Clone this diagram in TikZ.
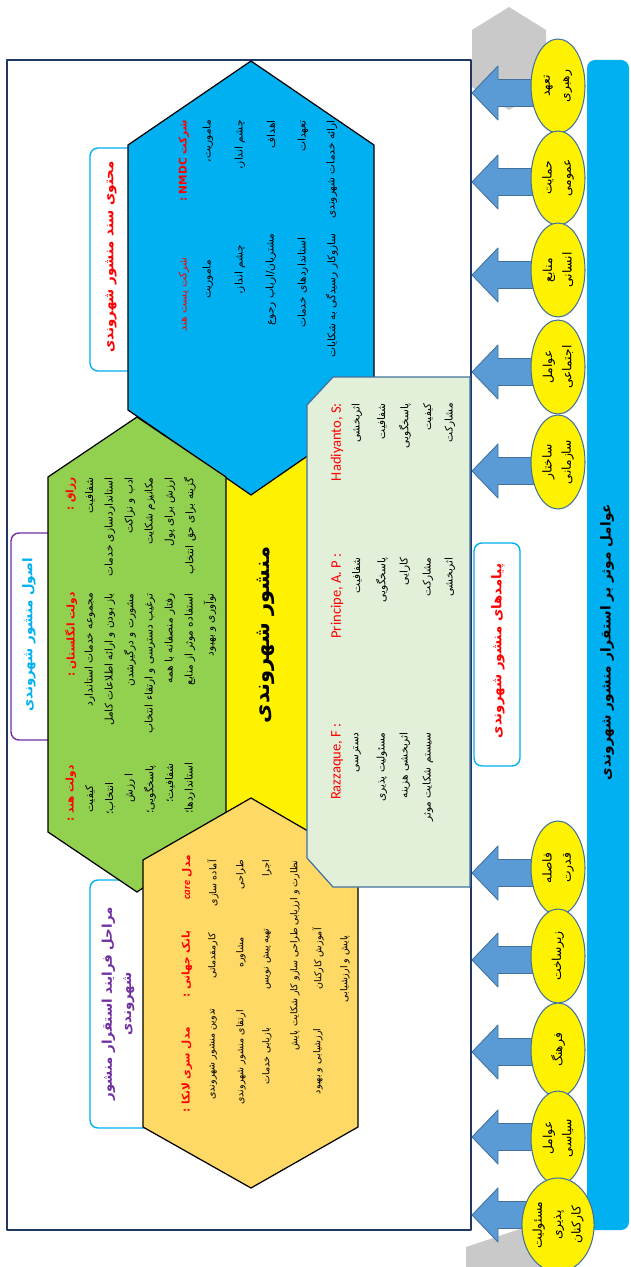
\documentclass[tikz,border=0pt]{standalone}
\usepackage{fontspec}
\newfontfamily\farsi[Script=Arabic]{DejaVu Sans}
\newfontfamily\latinf{Carlito}
\TeXXeTstate=1
\usetikzlibrary{shapes.geometric}
\newcommand{\rtltxt}[1]{\beginR #1\endR}
\definecolor{hexblue}{HTML}{00B0F0}
\definecolor{hexgreen}{HTML}{92D050}
\definecolor{hexorange}{HTML}{FFD966}
\definecolor{boxgreen}{HTML}{E2F0D9}
\definecolor{edgeblue}{HTML}{41719C}
\definecolor{arrowblue}{HTML}{5B9BD5}
\definecolor{framenavy}{HTML}{203864}
\definecolor{lblpurple}{HTML}{7030A0}
\definecolor{grayhex}{HTML}{C9C9C9}
\tikzset{hexline/.style={draw=black,line width=0.7pt,line join=miter},
  lblbox/.style={fill=white,line width=0.8pt,rounded corners=1.6mm},
  fatxt/.style={rotate=90,anchor=east,inner sep=0pt,font=\farsi\fontsize{6}{7}\selectfont},
  fasmall/.style={fatxt,font=\farsi\fontsize{5.4}{7}\selectfont},
  redttl/.style={fatxt,text=red,font=\farsi\bfseries\fontsize{6}{7}\selectfont},
  lattl/.style={rotate=90,anchor=east,inner sep=0pt,text=red,font=\latinf\fontsize{8.3}{9}\selectfont},
  lbltxt/.style={rotate=90,align=center,font=\farsi\bfseries\fontsize{7.6}{11}\selectfont},
  factor/.style={ellipse,draw=edgeblue,fill=yellow,line width=0.6pt,rotate=90,minimum width=1.88cm,minimum height=1.08cm,inner sep=0pt,align=center,font=\farsi\fontsize{7}{11}\selectfont},
  blockarr/.style={fill=arrowblue,draw=edgeblue,line width=0.5pt}}

\begin{document}
\begin{tikzpicture}[x=0.02cm,y=-0.02cm,line join=round]
\useasboundingbox (0,0) rectangle (630,1267);
% --- frame, grey ends and side strip
\draw[draw=framenavy,line width=0.6pt] (7,60) rectangle (471,1230);
\fill[grayhex] (509,7) -- (546,30) -- (546,87) -- (509,110) -- (472,87) -- (472,30) -- cycle;
\fill[grayhex] (466,1270) -- (466,1247) -- (520,1229) -- (548,1229) -- (548,1270) -- cycle;
\fill[hexblue,rounded corners=1.6mm] (587,60) rectangle (629,1230);
\node[rotate=90,font=\farsi\bfseries\fontsize{7.8}{10}\selectfont] (strip) at (607,642) {\rtltxt{عوامل موثر بر استقرار منشور شهروندی}};
% --- arrows and factors
\foreach \y in {93,182,275,372,471,873,960,1052,1137,1215}
  \draw[blockarr] (472,\y) -- (498,\y-27) -- (498,\y-13.5) -- (536,\y-13.5) -- (536,\y+13.5) -- (498,\y+13.5) -- (498,\y+27) -- cycle;
\foreach \y/\t [count=\i] in {86/{\rtltxt{تعهد}\\\rtltxt{رهبری}},178/{\rtltxt{حمایت}\\\rtltxt{عمومی}},270/{\rtltxt{منابع}\\\rtltxt{انسانی}},
  367/{\rtltxt{عوامل}\\\rtltxt{اجتماعی}},462/{\rtltxt{ساختار}\\\rtltxt{سازمانی}},868/{\rtltxt{فاصله}\\\rtltxt{قدرت}},
  956/{\rtltxt{زیرساخت}},1050/{\rtltxt{فرهنگ}},1138/{\rtltxt{عوامل}\\\rtltxt{سیاسی}},1225/{\rtltxt{مسئولیت}\\\rtltxt{پذیری}\\\rtltxt{کارکنان}}}
  \node[factor] (f\i) at (558,\y) {\t};
% --- title boxes
\draw[lblbox,draw=hexblue] (90,148) rectangle (140,371);
\node[lbltxt,text=red] (content) at (111,257) {\rtltxt{محتوی سند منشور شهروندی}};
\draw[lblbox,draw=lblpurple] (11,533) rectangle (60,740);
\node[lbltxt,text=hexblue] (principles) at (29,635) {\rtltxt{اصول منشور شهروندی}};
\draw[lblbox,draw=hexblue] (90,880) rectangle (160,1128);
\node[lbltxt,text=lblpurple] (stages) at (118,1004) {\rtltxt{مراحل فرایند استقرار منشور}\\\rtltxt{شهروندی}};
\draw[lblbox,draw=hexblue] (474,543) rectangle (520,766);
\node[lbltxt,text=red] (outcomes) at (498,651) {\rtltxt{پیامدهای منشور شهروندی}};
% --- honeycomb
\fill[yellow] (200,430) rectangle (330,870);
\draw[hexline,fill=hexblue] (251,61) -- (374,145) -- (374,410) -- (251,495) -- (128,410) -- (128,145) -- cycle;
\draw[hexline,fill=hexgreen] (137,417) -- (226,477) -- (226,832) -- (137,892) -- (48,832) -- (48,477) -- cycle;
\draw[hexline,fill=hexorange] (251,798) -- (358,860) -- (358,1127) -- (251,1188) -- (143,1127) -- (143,860) -- cycle;
\node[rotate=90,font=\farsi\bfseries\fontsize{12}{15}\selectfont] (charter) at (266,635) {\rtltxt{منشور شهروندی}};
\draw[fill=boxgreen,draw=edgeblue,line width=0.7pt] (333,377) -- (470,377) -- (470,887) -- (333,887) -- (307,858) -- (307,405) -- cycle;
% --- content of the charter (blue)
\node[redttl] (nmdc) at (184,120) {\rtltxt{شرکت \beginL NMDC\endL{} :}};
\foreach \x/\t [count=\i] in {208/ماموریت،,240/چشم انداز،,271/اهداف,303/تعهدات,332/ارائه خدمات شهروندی}
  \node[fatxt] (nmdc\i) at (\x,120) {\rtltxt{\t}};
\node[fatxt,text=red] (post) at (184,257) {\rtltxt{شرکت پست هند}};
\foreach \x/\s/\t [count=\i] in {208/260/ماموریت,240/245/چشم انداز،,271/233/{مشتریان/ارباب رجوع},303/237/استانداردهای خدمات,332/233/سازوکار رسیدگی به شکایات}
  \node[fatxt] (post\i) at (\x,\s) {\rtltxt{\t}};
% --- principles (green)
\node[redttl] (razzaq) at (71,477) {\rtltxt{رزاق :}};
\foreach \x/\t [count=\i] in {90/شفافیت,110/استانداردسازی خدمات,130/ادب و نزاکت,150/مکانیزم شکایت,170/ارزش برای پول,190/گزینه برای حق انتخاب}
  \node[fatxt] (razzaq\i) at (\x,477) {\rtltxt{\t}};
\node[redttl] (uk) at (71,592) {\rtltxt{دولت انگلستان :}};
\foreach \x/\t [count=\i] in {90/مجموعه خدمات استاندارد,110/باز بودن و ارائه اطلاعات کامل,130/مشورت و درگیرشدن,150/ترغیب دسترسی و ارتقاء انتخاب,170/رفتار منصفانه با همه,190/استفاده موثر از منابع,210/نوآوری و بهبود}
  \node[fatxt] (uk\i) at (\x,593) {\rtltxt{\t}};
\node[redttl] (india) at (71,765) {\rtltxt{دولت هند :}};
\foreach \x/\s/\t [count=\i] in {90/785/کیفیت,110/782/انتخاب؛,130/773/ا رزش,150/765/پاسخگویی؛,170/763/شفافیت؛,190/762/استانداردها؛}
  \node[fatxt] (india\i) at (\x,\s) {\rtltxt{\t}};
% --- stages (orange)
\node[redttl] (care) at (187,855) {\rtltxt{مدل {\latinf\itshape care}}};
\foreach \x/\t [count=\i] in {213/آماده سازی,241/طراحی,267/اجرا,295/نظارت و ارزیابی}
  \node[fasmall] (care\i) at (\x,860) {\rtltxt{\t}};
\node[redttl] (wb) at (187,930) {\rtltxt{بانک جهانی :}};
\foreach \x/\s/\t [count=\i] in {213/933/کارمقدماتی,241/937/مشاوره,267/928/تهیه پیش نویس,295/928/طراحی سازو کار شکایت,318/928/آموزش کارکنان,345/935/پایش و ارزشیابی}
  \node[fasmall] (wb\i) at (\x,\s) {\rtltxt{\t}};
\node[redttl] (lanka) at (187,1027) {\rtltxt{مدل سری لانکا :}};
\foreach \x/\s/\t [count=\i] in {213/1008/تدوین منشور شهروندی,241/1010/ارتقای منشور شهروندی,267/1027/بازیابی خدمات,295/1030/پایش,318/1028/ارزشیابی و بهبود}
  \node[fasmall] (lanka\i) at (\x,\s) {\rtltxt{\t}};
% --- outcomes (light green)
\node[lattl] (hadi) at (337,403) {Hadiyanto, S:};
\foreach \x/\t [count=\i] in {357/اثربخشی,382/شفافیت,405/پاسخگویی,428/کیفیت,450/مشارکت}
  \node[fatxt] (hadi\i) at (\x,403) {\rtltxt{\t}};
\node[lattl] (princ) at (337,553) {Principe, A. P :};
\foreach \x/\t [count=\i] in {357/شفافیت,382/پاسخگویی,405/کارایی,428/مشارکت,450/اثربخشی}
  \node[fatxt] (princ\i) at (\x,557) {\rtltxt{\t}};
\node[lattl] (razz) at (337,723) {Razzaque, F :};
\foreach \x/\t [count=\i] in {357/دسترسی,382/مسئولیت پذیری,405/اثربخشی هزینه,428/سیستم شکایت موثر}
  \node[fatxt] (razz\i) at (\x,732) {\rtltxt{\t}};
\end{tikzpicture}
\end{document}
